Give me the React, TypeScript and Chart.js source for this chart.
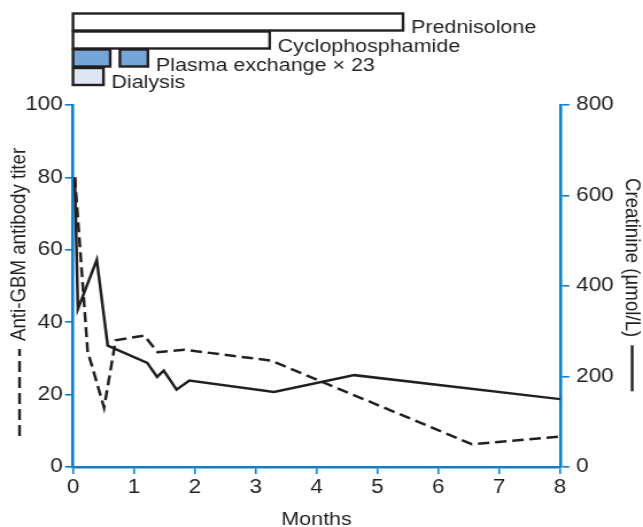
import React, { useEffect, useRef } from "react";
import { Chart, registerables } from "chart.js";

Chart.register(...registerables);

// ---- data ----
const monthTicks = [0, 1, 2, 3, 4, 5, 6, 7, 8];
const titerTicks = [0, 20, 40, 60, 80, 100];
const creatinineTicks = [0, 200, 400, 600, 800];

const titerMonths = [0.03, 0.24, 0.51, 0.7, 1.17, 1.39, 1.83, 3.25, 6.55, 8.0];
const titerValues = [80, 32, 16.4, 35, 36.3, 31.7, 32.4, 29.4, 6.3, 8.4];

const creatinineMonths = [0.03, 0.08, 0.39, 0.57, 1.22, 1.38, 1.49, 1.7, 1.91, 3.3, 4.62, 8.0];
const creatinineValues = [640, 349, 458, 268, 230, 199, 213, 171, 191, 166, 203, 150];

const treatmentNames = ["Prednisolone", "Cyclophosphamide", "Plasma exchange \u00d7 23", "Dialysis"];
const treatmentStarts = [[0], [0], [0, 0.77], [0]];
const treatmentEnds = [[5.42], [3.23], [0.61, 1.23], [0.5]];

// ---- styles / layout ----
const OUT_W = 643;
const OUT_H = 527;
const STRETCH = 1.148;
const IN_W = Math.round(OUT_W / STRETCH);
const BLUE = "#0f7fc8";
const INK = "#231f20";
const FONT_FAMILY = '"Liberation Sans", Arial, Helvetica, sans-serif';
const FONT_SIZE = 18.7;
const TICK_FONT_SIZE = 19.6;
const ROW_TOPS = [13.5, 31.5, 49.5, 68];
const ROW_H = 17;
const ROW_BASELINES = [32.5, 52, 70.5, 87.5];
const TREATMENT_FILLS = ["#ffffff", "#ffffff", "#76a6d8", "#dfe6f3"];

const sx = (px: number) => px / STRETCH;

const overlayPlugin = {
  id: "overlay",
  afterDraw(chart: any) {
    const ctx = chart.ctx as CanvasRenderingContext2D;
    const xs = chart.scales.x;
    ctx.save();
    ctx.font = `${FONT_SIZE}px ${FONT_FAMILY}`;
    ctx.fillStyle = INK;
    // treatment bars
    treatmentNames.forEach((name, i) => {
      let lastX = 0;
      treatmentStarts[i].forEach((s, j) => {
        const x0 = xs.getPixelForValue(s);
        const x1 = xs.getPixelForValue(treatmentEnds[i][j]);
        ctx.fillStyle = TREATMENT_FILLS[i];
        ctx.fillRect(x0, ROW_TOPS[i], x1 - x0, ROW_H);
        ctx.strokeStyle = INK;
        ctx.lineWidth = 2.4;
        ctx.strokeRect(x0, ROW_TOPS[i], x1 - x0, ROW_H);
        lastX = x1;
      });
      ctx.fillStyle = INK;
      ctx.textAlign = "left";
      ctx.textBaseline = "alphabetic";
      ctx.fillText(name, lastX + sx(8), ROW_BASELINES[i]);
    });

    // left axis title (rotated) with dashed key
    ctx.save();
    ctx.translate(sx(19.5), 436);
    ctx.rotate(-Math.PI / 2);
    ctx.strokeStyle = INK;
    ctx.lineWidth = 2.4;
    ctx.setLineDash([11, 5]);
    ctx.beginPath();
    ctx.moveTo(0, 0);
    ctx.lineTo(87, 0);
    ctx.stroke();
    ctx.setLineDash([]);
    ctx.textBaseline = "middle";
    ctx.textAlign = "left";
    ctx.fillText("Anti-GBM antibody titer", 95, 0);
    ctx.restore();

    // right axis title (rotated) with solid key
    ctx.save();
    ctx.translate(sx(632), 178);
    ctx.rotate(Math.PI / 2);
    ctx.textBaseline = "middle";
    ctx.textAlign = "left";
    const label = "Creatinine (\u00b5mol/L)";
    ctx.fillText(label, 0, 0);
    const w = ctx.measureText(label).width;
    ctx.strokeStyle = INK;
    ctx.lineWidth = 2.4;
    ctx.beginPath();
    ctx.moveTo(w + 8, 0);
    ctx.lineTo(w + 54, 0);
    ctx.stroke();
    ctx.restore();

    // x axis title
    ctx.textAlign = "center";
    ctx.textBaseline = "alphabetic";
    ctx.fillText("Months", (chart.chartArea.left + chart.chartArea.right) / 2, 525);
    ctx.restore();
  },
};

export default function App() {
  const canvasRef = useRef<HTMLCanvasElement | null>(null);

  useEffect(() => {
    if (!canvasRef.current) return;
    const tickFont = { family: FONT_FAMILY, size: TICK_FONT_SIZE };
    const chart = new Chart(canvasRef.current, {
      type: "line",
      data: {
        datasets: [
          {
            label: "Anti-GBM antibody titer",
            data: titerMonths.map((m, i) => ({ x: m, y: titerValues[i] })),
            yAxisID: "y",
            borderColor: INK,
            borderWidth: 2.5,
            borderDash: [10, 5],
            pointRadius: 0,
            tension: 0,
            fill: false,
          },
          {
            label: "Creatinine (\u00b5mol/L)",
            data: creatinineMonths.map((m, i) => ({ x: m, y: creatinineValues[i] })),
            yAxisID: "y1",
            borderColor: INK,
            borderWidth: 2.5,
            pointRadius: 0,
            tension: 0,
            fill: false,
          },
        ],
      },
      options: {
        animation: false,
        responsive: false,
        devicePixelRatio: 1,
        layout: { padding: { top: 105, left: 0, right: 0, bottom: 0 } },
        plugins: {
          legend: { display: false },
          tooltip: { enabled: false },
        },
        scales: {
          x: {
            type: "linear",
            min: monthTicks[0],
            max: monthTicks[monthTicks.length - 1],
            afterBuildTicks: (s: any) => {
              s.ticks = monthTicks.map((v) => ({ value: v }));
            },
            ticks: { color: INK, font: tickFont, padding: 2, maxRotation: 0, autoSkip: false },
            grid: { drawOnChartArea: false, drawTicks: true, tickLength: 7, color: BLUE, lineWidth: 1.6 },
            border: { display: true, color: BLUE, width: 2.6 },
            afterFit: (s: any) => {
              s.height = OUT_H - 467;
            },
          },
          y: {
            type: "linear",
            position: "left",
            min: titerTicks[0],
            max: titerTicks[titerTicks.length - 1],
            afterBuildTicks: (s: any) => {
              s.ticks = titerTicks.map((v) => ({ value: v }));
            },
            ticks: { color: INK, font: tickFont, padding: 2, autoSkip: false },
            grid: { drawOnChartArea: false, drawTicks: true, tickLength: 7, color: BLUE, lineWidth: 1.6 },
            border: { display: true, color: BLUE, width: 2.6 },
            afterFit: (s: any) => {
              s.width = sx(73);
            },
          },
          y1: {
            type: "linear",
            position: "right",
            min: creatinineTicks[0],
            max: creatinineTicks[creatinineTicks.length - 1],
            afterBuildTicks: (s: any) => {
              s.ticks = creatinineTicks.map((v) => ({ value: v }));
            },
            ticks: { color: INK, font: tickFont, padding: 6, autoSkip: false },
            grid: { drawOnChartArea: false, drawTicks: true, tickLength: 8, color: BLUE, lineWidth: 1.6 },
            border: { display: true, color: BLUE, width: 2.6 },
            afterFit: (s: any) => {
              s.width = IN_W - sx(560);
            },
          },
        },
      },
      plugins: [overlayPlugin],
    });
    return () => chart.destroy();
  }, []);

  return (
    <div style={{ position: "absolute", left: 0, top: 0, width: OUT_W, height: OUT_H, background: "#fff" }}>
      <canvas
        ref={canvasRef}
        width={IN_W}
        height={OUT_H}
        style={{ width: OUT_W + "px", height: OUT_H + "px", display: "block" }}
      />
    </div>
  );
}
